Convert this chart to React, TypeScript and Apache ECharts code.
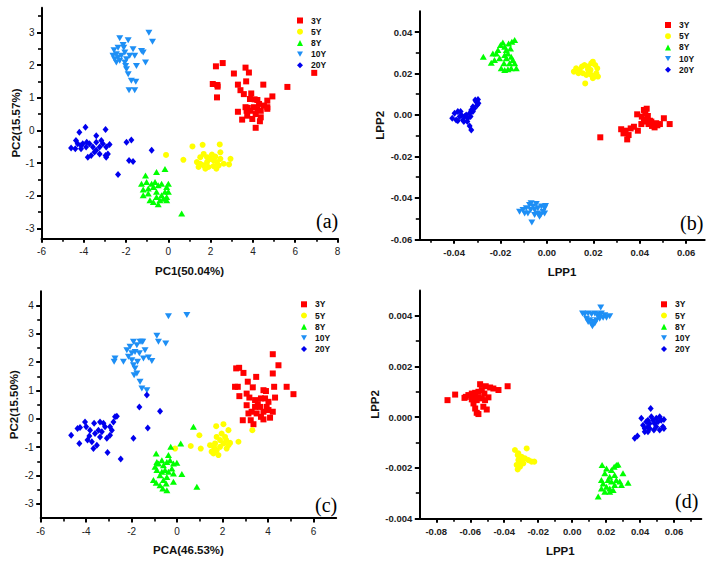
import React, { useEffect, useRef } from 'react';
import * as echarts from 'echarts';

const names = ['3Y', '5Y', '8Y', '10Y', '20Y'];

// ---------- Panel (a): PCA ----------
const a3Y = [[2.25,1.96],[2.57,2.06],[2.10,1.42],[2.32,1.39],[2.33,1.34],[2.30,1.01],[3.10,1.74],[3.29,1.40],[3.41,1.23],[3.65,1.92],[3.81,1.77],[3.68,1.50],[3.57,1.11],[3.92,1.13],[3.86,0.96],[3.76,0.69],[3.70,0.60],[3.29,0.57],[3.49,0.33],[4.08,0.95],[4.21,0.93],[4.49,1.40],[4.68,0.91],[4.92,1.04],[5.63,1.33],[6.90,1.76],[4.05,0.71],[4.21,0.65],[4.37,0.60],[4.52,0.76],[4.68,0.71],[4.29,0.81],[4.13,0.50],[4.37,0.40],[4.33,0.28],[4.13,0.08],[3.73,0.45],[3.65,0.71],[3.89,0.60],[3.97,0.35],[4.68,0.66]];
const a5Y = [[-0.11,-0.75],[0.71,-0.90],[1.14,-0.49],[1.62,-0.44],[2.43,-0.43],[1.67,-0.72],[1.83,-0.82],[1.98,-0.87],[2.14,-0.92],[2.30,-0.97],[2.46,-0.87],[1.51,-1.02],[1.67,-1.07],[1.90,-1.12],[2.14,-1.09],[2.38,-1.07],[2.62,-1.02],[2.94,-0.87],[2.87,-1.04],[1.83,-0.97],[1.35,-0.97],[1.51,-0.82],[2.06,-0.74],[2.22,-0.80],[2.46,-0.67],[1.43,-1.12],[1.75,-1.17],[2.27,-1.17]];
const a8Y = [[-1.08,-1.38],[-0.56,-1.27],[-0.16,-1.18],[-1.27,-1.63],[-1.19,-1.81],[-0.95,-1.93],[-0.87,-2.14],[-0.71,-2.19],[-0.48,-2.26],[-1.03,-1.58],[-0.79,-1.63],[-0.63,-1.58],[-0.48,-1.68],[-0.32,-1.63],[-0.08,-1.73],[-0.16,-1.88],[-0.32,-1.98],[-0.56,-1.88],[-0.24,-2.09],[-0.08,-2.04],[0.00,-1.88],[-0.71,-1.73],[-0.56,-2.04],[-0.40,-2.14],[-0.08,-2.14],[-0.95,-1.78],[0.63,-2.54],[-1.19,-1.98],[0.00,-1.63]];
const a10Y = [[-2.30,2.82],[-1.90,2.76],[-0.92,2.99],[-0.75,2.71],[-2.57,2.45],[-2.46,2.33],[-2.38,2.23],[-2.22,2.28],[-2.06,2.38],[-2.62,2.28],[-2.54,2.18],[-2.30,2.13],[-2.06,2.08],[-2.46,2.08],[-1.98,2.18],[-1.83,2.28],[-1.67,2.48],[-1.59,2.28],[-1.27,2.43],[-1.19,2.38],[-1.08,2.08],[-1.51,1.97],[-1.98,1.87],[-1.90,1.72],[-1.75,1.52],[-1.86,1.23],[-1.59,1.23],[-1.54,1.49],[-2.14,2.61],[-2.11,2.53],[-2.38,2.53],[-2.02,1.97]];
const a20Y = [[-4.60,-0.54],[-4.21,-0.06],[-3.92,0.10],[-3.41,-0.16],[-2.97,0.03],[-4.37,-0.31],[-4.29,-0.41],[-4.13,-0.56],[-4.40,-0.56],[-4.05,-0.41],[-3.89,-0.51],[-3.73,-0.41],[-3.57,-0.51],[-3.41,-0.61],[-3.25,-0.51],[-3.10,-0.41],[-2.94,-0.51],[-2.78,-0.43],[-3.65,-0.77],[-3.49,-0.66],[-3.25,-0.72],[-2.97,-0.77],[-2.86,-0.72],[-3.81,-0.82],[-4.13,-0.46],[-3.86,-0.36],[-3.41,-0.36],[-1.98,-0.36],[-1.75,-0.29],[-1.86,-0.92],[-1.67,-0.95],[-0.79,-0.61],[-2.38,-1.35],[-3.17,-0.31],[-2.94,-0.82]];

// ---------- Panel (b): LPP ----------
const b3Y = [[0.0230,-0.0108],[0.0320,-0.0069],[0.0330,-0.0089],[0.0339,-0.0076],[0.0352,-0.0097],[0.0346,-0.0118],[0.0361,-0.0065],[0.0375,-0.0057],[0.0392,-0.0076],[0.0389,0.0003],[0.0409,-0.0008],[0.0418,0.0024],[0.0430,0.0030],[0.0424,0.0008],[0.0435,-0.0005],[0.0427,-0.0024],[0.0444,-0.0028],[0.0438,-0.0044],[0.0453,-0.0053],[0.0464,-0.0060],[0.0476,-0.0050],[0.0487,-0.0044],[0.0504,-0.0016],[0.0529,-0.0044],[0.0407,-0.0044],[0.0418,-0.0032],[0.0450,-0.0032],[0.0471,-0.0040]];
const b5Y = [[0.0116,0.0209],[0.0126,0.0225],[0.0141,0.0217],[0.0151,0.0233],[0.0162,0.0241],[0.0177,0.0233],[0.0191,0.0249],[0.0198,0.0257],[0.0208,0.0241],[0.0217,0.0225],[0.0213,0.0201],[0.0203,0.0185],[0.0191,0.0193],[0.0180,0.0209],[0.0170,0.0193],[0.0155,0.0201],[0.0136,0.0201],[0.0165,0.0152],[0.0198,0.0177],[0.0220,0.0185],[0.0177,0.0220],[0.0188,0.0217]];
const b8Y = [[-0.0274,0.0281],[-0.0240,0.0252],[-0.0233,0.0297],[-0.0226,0.0265],[-0.0211,0.0313],[-0.0200,0.0337],[-0.0190,0.0349],[-0.0182,0.0329],[-0.0175,0.0313],[-0.0165,0.0345],[-0.0157,0.0321],[-0.0151,0.0353],[-0.0139,0.0361],[-0.0168,0.0297],[-0.0182,0.0289],[-0.0175,0.0273],[-0.0154,0.0281],[-0.0147,0.0265],[-0.0139,0.0249],[-0.0132,0.0225],[-0.0154,0.0225],[-0.0168,0.0220],[-0.0182,0.0217],[-0.0197,0.0225],[-0.0185,0.0249],[-0.0204,0.0273],[-0.0218,0.0297],[-0.0161,0.0249]];
const b10Y = [[-0.0118,-0.0467],[-0.0103,-0.0459],[-0.0089,-0.0450],[-0.0075,-0.0434],[-0.0068,-0.0426],[-0.0060,-0.0442],[-0.0053,-0.0459],[-0.0039,-0.0450],[-0.0024,-0.0442],[-0.0010,-0.0450],[-0.0010,-0.0475],[-0.0027,-0.0483],[-0.0039,-0.0475],[-0.0053,-0.0483],[-0.0065,-0.0519],[-0.0082,-0.0475],[-0.0096,-0.0475],[-0.0070,-0.0459],[-0.0046,-0.0430],[-0.0017,-0.0467],[-0.0032,-0.0491],[-0.0006,-0.0439]];
const b20Y = [[-0.0408,-0.0016],[-0.0398,0.0008],[-0.0391,-0.0024],[-0.0384,0.0016],[-0.0376,-0.0008],[-0.0369,0.0000],[-0.0362,-0.0024],[-0.0355,-0.0008],[-0.0348,0.0000],[-0.0341,-0.0016],[-0.0333,0.0008],[-0.0326,0.0024],[-0.0319,0.0040],[-0.0312,0.0032],[-0.0305,0.0064],[-0.0300,0.0048],[-0.0295,0.0056],[-0.0309,0.0072],[-0.0319,0.0016],[-0.0329,-0.0008],[-0.0343,-0.0032],[-0.0358,-0.0032],[-0.0333,-0.0053],[-0.0326,-0.0073],[-0.0384,-0.0028],[-0.0372,0.0016],[-0.0297,0.0075]];

// ---------- Panel (c): PCA ----------
const c3Y = [[2.60,1.78],[2.73,1.80],[2.55,1.13],[2.67,1.13],[2.74,0.80],[2.92,1.62],[3.06,0.89],[3.11,1.31],[3.18,0.75],[3.33,1.11],[3.48,1.48],[3.43,0.42],[3.50,0.19],[3.80,1.01],[3.91,0.98],[3.87,0.72],[4.21,2.28],[4.21,1.60],[4.27,1.13],[4.46,1.89],[4.31,0.75],[4.02,0.31],[4.82,1.13],[5.12,0.87],[3.06,0.48],[3.14,0.19],[3.24,-0.05],[3.36,-0.19],[2.89,-0.05],[3.55,0.52],[3.65,0.42],[3.80,0.25],[3.94,0.42],[4.02,0.60],[3.69,0.07],[3.80,-0.02],[4.09,0.04],[4.21,0.25],[3.43,0.66],[3.69,0.72],[3.28,0.25]];
const c5Y = [[-0.09,-1.05],[0.60,-0.96],[0.98,-0.58],[1.04,-1.05],[1.63,-1.02],[1.72,-0.26],[2.04,-0.19],[2.26,-0.40],[2.70,-0.81],[3.31,-0.40],[1.74,-0.64],[1.89,-0.75],[2.04,-0.87],[2.16,-0.75],[2.26,-0.93],[1.89,-0.99],[1.74,-1.11],[1.60,-1.22],[1.67,-0.87],[1.45,-0.93],[1.52,-1.16],[1.96,-0.52],[2.11,-0.64],[2.33,-0.85],[1.82,-1.28],[2.18,-1.05]];
const c8Y = [[0.72,-0.28],[-0.28,-0.99],[0.16,-0.87],[-0.92,-1.22],[-0.89,-1.52],[-1.04,-2.16],[-0.92,-2.26],[-0.75,-2.34],[-0.63,-2.46],[-0.45,-2.52],[-0.48,-2.28],[-0.16,-2.22],[0.21,-1.95],[0.87,-2.40],[-0.97,-1.69],[-0.82,-1.58],[-0.67,-1.46],[-0.60,-1.64],[-0.45,-1.52],[-0.31,-1.46],[-0.16,-1.58],[-0.01,-1.55],[-0.23,-1.75],[-0.38,-1.87],[-0.53,-1.81],[-0.67,-1.87],[-0.75,-1.99],[-0.45,-2.05],[-0.16,-1.93],[-0.89,-1.81],[-0.38,-1.28],[-0.60,-2.16]];
const c10Y = [[-0.38,3.62],[0.43,3.66],[-0.89,2.93],[-0.82,2.72],[-0.50,2.66],[-2.77,2.01],[-2.73,2.13],[-2.36,2.01],[-2.21,2.42],[-2.07,2.54],[-1.92,2.72],[-1.77,2.60],[-1.63,2.72],[-1.51,2.72],[-1.99,2.31],[-1.85,2.36],[-2.14,2.19],[-1.99,2.07],[-1.92,1.89],[-1.85,1.78],[-1.77,1.60],[-1.63,1.31],[-1.55,1.07],[-1.33,1.01],[-1.41,2.42],[-1.26,2.16],[-1.11,2.04],[-1.48,2.13],[-1.66,2.31],[-1.89,1.54],[-1.74,2.01],[-1.55,2.72]];
const c20Y = [[-4.66,-0.58],[-4.38,-0.34],[-4.30,-0.87],[-4.00,-0.28],[-4.05,-0.11],[-3.86,-0.61],[-3.65,-0.16],[-3.68,-1.05],[-3.53,-0.93],[-3.39,-0.64],[-3.24,-0.16],[-3.09,-0.69],[-2.65,0.09],[-1.33,0.84],[-1.66,0.42],[-0.75,0.27],[-1.29,-0.32],[-1.92,-0.69],[-3.06,-1.19],[-2.48,-1.42],[-4.27,-0.31],[-3.83,-0.40],[-3.61,-0.52],[-3.46,-0.40],[-3.31,-0.46],[-3.17,-0.28],[-2.95,-0.28],[-2.87,-0.40],[-2.95,-0.58],[-2.80,-0.11],[-3.39,-0.11],[-3.75,-0.81],[-3.94,-0.75],[-2.73,0.07]];

// ---------- Panel (d): LPP ----------
const d3Y = [[-0.0734,0.00067],[-0.0689,0.00089],[-0.0634,0.00076],[-0.0626,0.00080],[-0.0611,0.00087],[-0.0591,0.00093],[-0.0581,0.00080],[-0.0571,0.00096],[-0.0552,0.00100],[-0.0542,0.00130],[-0.0532,0.00107],[-0.0517,0.00093],[-0.0509,0.00122],[-0.0483,0.00117],[-0.0464,0.00113],[-0.0434,0.00107],[-0.0380,0.00122],[-0.0562,0.00067],[-0.0581,0.00054],[-0.0571,0.00034],[-0.0562,0.00017],[-0.0552,0.00012],[-0.0523,0.00041],[-0.0503,0.00030],[-0.0513,0.00067],[-0.0552,0.00078],[-0.0591,0.00070],[-0.0532,0.00074],[-0.0493,0.00078]];
const d5Y = [[-0.0337,-0.00130],[-0.0321,-0.00150],[-0.0317,-0.00170],[-0.0327,-0.00189],[-0.0321,-0.00207],[-0.0307,-0.00176],[-0.0294,-0.00170],[-0.0278,-0.00163],[-0.0258,-0.00170],[-0.0239,-0.00176],[-0.0223,-0.00176],[-0.0268,-0.00124],[-0.0288,-0.00183],[-0.0307,-0.00196],[-0.0297,-0.00157],[-0.0317,-0.00143]];
const d8Y = [[0.0153,-0.00314],[0.0176,-0.00189],[0.0202,-0.00203],[0.0231,-0.00209],[0.0247,-0.00196],[0.0260,-0.00189],[0.0270,-0.00187],[0.0299,-0.00222],[0.0329,-0.00259],[0.0221,-0.00236],[0.0192,-0.00222],[0.0172,-0.00249],[0.0182,-0.00262],[0.0202,-0.00275],[0.0221,-0.00282],[0.0241,-0.00288],[0.0250,-0.00268],[0.0231,-0.00255],[0.0211,-0.00249],[0.0260,-0.00249],[0.0280,-0.00255],[0.0290,-0.00268],[0.0192,-0.00295],[0.0172,-0.00282],[0.0250,-0.00229],[0.0221,-0.00295]];
const d10Y = [[0.0061,0.00409],[0.0074,0.00407],[0.0094,0.00409],[0.0114,0.00407],[0.0133,0.00409],[0.0153,0.00407],[0.0172,0.00409],[0.0192,0.00403],[0.0221,0.00399],[0.0168,0.00433],[0.0084,0.00389],[0.0104,0.00383],[0.0123,0.00376],[0.0143,0.00383],[0.0162,0.00389],[0.0182,0.00393],[0.0202,0.00393],[0.0119,0.00359],[0.0133,0.00370],[0.0114,0.00367],[0.0094,0.00376],[0.0153,0.00396]];
const d20Y = [[0.0368,-0.00084],[0.0384,-0.00075],[0.0407,-0.00005],[0.0417,-0.00032],[0.0427,-0.00045],[0.0436,-0.00018],[0.0446,-0.00038],[0.0456,-0.00025],[0.0466,0.00001],[0.0462,0.00034],[0.0476,-0.00012],[0.0485,-0.00025],[0.0495,-0.00038],[0.0505,-0.00018],[0.0515,0.00001],[0.0524,-0.00012],[0.0534,-0.00038],[0.0540,-0.00045],[0.0540,-0.00009],[0.0515,-0.00051],[0.0481,-0.00051],[0.0446,-0.00058],[0.0427,-0.00058],[0.0456,-0.00045],[0.0495,-0.00005],[0.0446,-0.00012]];

// ---------- Tick labels ----------
const aXTicks = [-6, -4, -2, 0, 2, 4, 6, 8];
const aYTicks = [-3, -2, -1, 0, 1, 2, 3];
const bXTicks = [-0.04, -0.02, 0, 0.02, 0.04, 0.06];
const bYTicks = [-0.06, -0.04, -0.02, 0, 0.02, 0.04];
const cXTicks = [-6, -4, -2, 0, 2, 4, 6];
const cYTicks = [-3, -2, -1, 0, 1, 2, 3, 4];
const dXTicks = [-0.08, -0.06, -0.04, -0.02, 0, 0.02, 0.04, 0.06];
const dYTicks = [-0.004, -0.002, 0, 0.002, 0.004];

const colors = ['#FF0000', '#FFFF00', '#00FF00', '#1E8FF5', '#0000EE'];
const symbols = ['rect', 'circle', 'triangle', 'path://M0,0L10,0L5,8.66Z', 'diamond'];
const symbolSizes = [6, 6, [7, 6], [7, 6], [6, 7]];

const SANS = '"Liberation Sans", Arial, sans-serif';

export default function App() {
  const ref = useRef<HTMLDivElement>(null);

  useEffect(() => {
    if (!ref.current) return;
    const chart = echarts.init(ref.current, undefined, { renderer: 'svg' });

    const panels = [
      {
        grid: { left: 41.5, top: 7.8, width: 296, height: 230.5 },
        x: { min: -6, max: 8, ticks: aXTicks, step: 2, dec: 0, name: 'PC1(50.04%)', nameGap: 27 },
        y: { min: -3.3, max: 3.75, ticks: aYTicks, step: 1, dec: 0, name: 'PC2(15.57%)', nameGap: 20 },
        data: [a3Y, a5Y, a8Y, a10Y, a20Y],
        legend: { left: 297, top: 16 },
        tag: { text: '(a)', x: 316, y: 211 },
        bold: false,
      },
      {
        grid: { left: 419.3, top: 11.3, width: 285.4, height: 228 },
        x: { min: -0.055, max: 0.068, ticks: bXTicks, step: 0.02, dec: 2, name: 'LPP1', nameGap: 27 },
        y: { min: -0.06, max: 0.05, ticks: bYTicks, step: 0.02, dec: 2, name: 'LPP2', nameGap: 33 },
        data: [b3Y, b5Y, b8Y, b10Y, b20Y],
        legend: { left: 665, top: 20.5 },
        tag: { text: '(b)', x: 680, y: 213 },
        bold: true,
      },
      {
        grid: { left: 40.7, top: 291.3, width: 295.5, height: 226.7 },
        x: { min: -6, max: 7, ticks: cXTicks, step: 2, dec: 0, name: 'PCA(46.53%)', nameGap: 26 },
        y: { min: -3.5, max: 4.5, ticks: cYTicks, step: 1, dec: 0, name: 'PC2(15.50%)', nameGap: 21 },
        data: [c3Y, c5Y, c8Y, c10Y, c20Y],
        legend: { left: 301, top: 299.8 },
        tag: { text: '(c)', x: 315, y: 495 },
        bold: false,
      },
      {
        grid: { left: 419.3, top: 290.6, width: 282, height: 227.7 },
        x: { min: -0.09, max: 0.076, ticks: dXTicks, step: 0.02, dec: 2, name: 'LPP1', nameGap: 27 },
        y: { min: -0.004, max: 0.005, ticks: dYTicks, step: 0.002, dec: 3, name: 'LPP2', nameGap: 38 },
        data: [d3Y, d5Y, d8Y, d10Y, d20Y],
        legend: { left: 661, top: 299.8 },
        tag: { text: '(d)', x: 675, y: 491 },
        bold: true,
      },
    ];

    const makeAxis = (ax: any, gi: number, isX: boolean, bold: boolean) => ({
      type: 'value',
      gridIndex: gi,
      position: isX ? 'bottom' : 'left',
      min: ax.min,
      max: ax.max,
      minInterval: ax.step,
      maxInterval: ax.step,
      name: ax.name,
      nameLocation: 'middle',
      nameGap: ax.nameGap,
      nameMoveOverlap: false,
      nameTextStyle: { fontFamily: SANS, fontWeight: 'bold', fontSize: 11.5, color: '#111' },
      axisLine: { show: true, onZero: false, lineStyle: { color: '#000', width: 2 } },
      axisTick: {
        show: true, inside: false, length: 4.5, customValues: ax.ticks,
        lineStyle: { color: '#000', width: 2 },
      },
      minorTick: { show: true, splitNumber: 2, length: 3.5, lineStyle: { color: '#000', width: 1.6 } },
      splitLine: { show: false },
      minorSplitLine: { show: false },
      axisLabel: {
        customValues: ax.ticks,
        margin: isX ? 8 : 7,
        fontFamily: SANS,
        fontSize: bold ? 9.5 : 10,
        fontWeight: bold ? 'bold' : 'normal',
        color: '#222',
        formatter: (v: number) => v.toFixed(ax.dec),
      },
    });

    const option: any = {
      animation: false,
      backgroundColor: '#fff',
      grid: panels.map((p) => ({ ...p.grid, containLabel: false, outerBoundsMode: 'none' })),
      xAxis: panels.map((p, i) => makeAxis(p.x, i, true, p.bold)),
      yAxis: panels.map((p, i) => makeAxis(p.y, i, false, p.bold)),
      legend: panels.map((p) => ({
        data: names,
        orient: 'vertical',
        left: p.legend.left,
        top: p.legend.top,
        itemWidth: 6,
        itemHeight: 6,
        itemGap: 2.2,
        selectedMode: false,
        padding: 0,
        textStyle: {
          fontFamily: SANS, fontSize: 8.5, fontWeight: 'bold', color: '#111',
          lineHeight: 9, padding: [0, 0, 0, 3],
        },
      })),
      series: panels.flatMap((p, pi) =>
        p.data.map((d, si) => ({
          type: 'scatter',
          name: names[si],
          xAxisIndex: pi,
          yAxisIndex: pi,
          data: d,
          symbol: symbols[si],
          symbolSize: symbolSizes[si],
          itemStyle: { color: colors[si], opacity: 1 },
          emphasis: { disabled: true },
        }))
      ),
      graphic: panels.map((p) => ({
        type: 'text',
        x: p.tag.x,
        y: p.tag.y,
        style: { text: p.tag.text, font: '20px "Liberation Serif", "Times New Roman", serif', fill: '#000' },
      })),
    };

    chart.setOption(option);
    return () => chart.dispose();
  }, []);

  return (
    <div
      ref={ref}
      style={{ position: 'fixed', left: 0, top: 0, width: 717, height: 561, background: '#fff' }}
    />
  );
}
